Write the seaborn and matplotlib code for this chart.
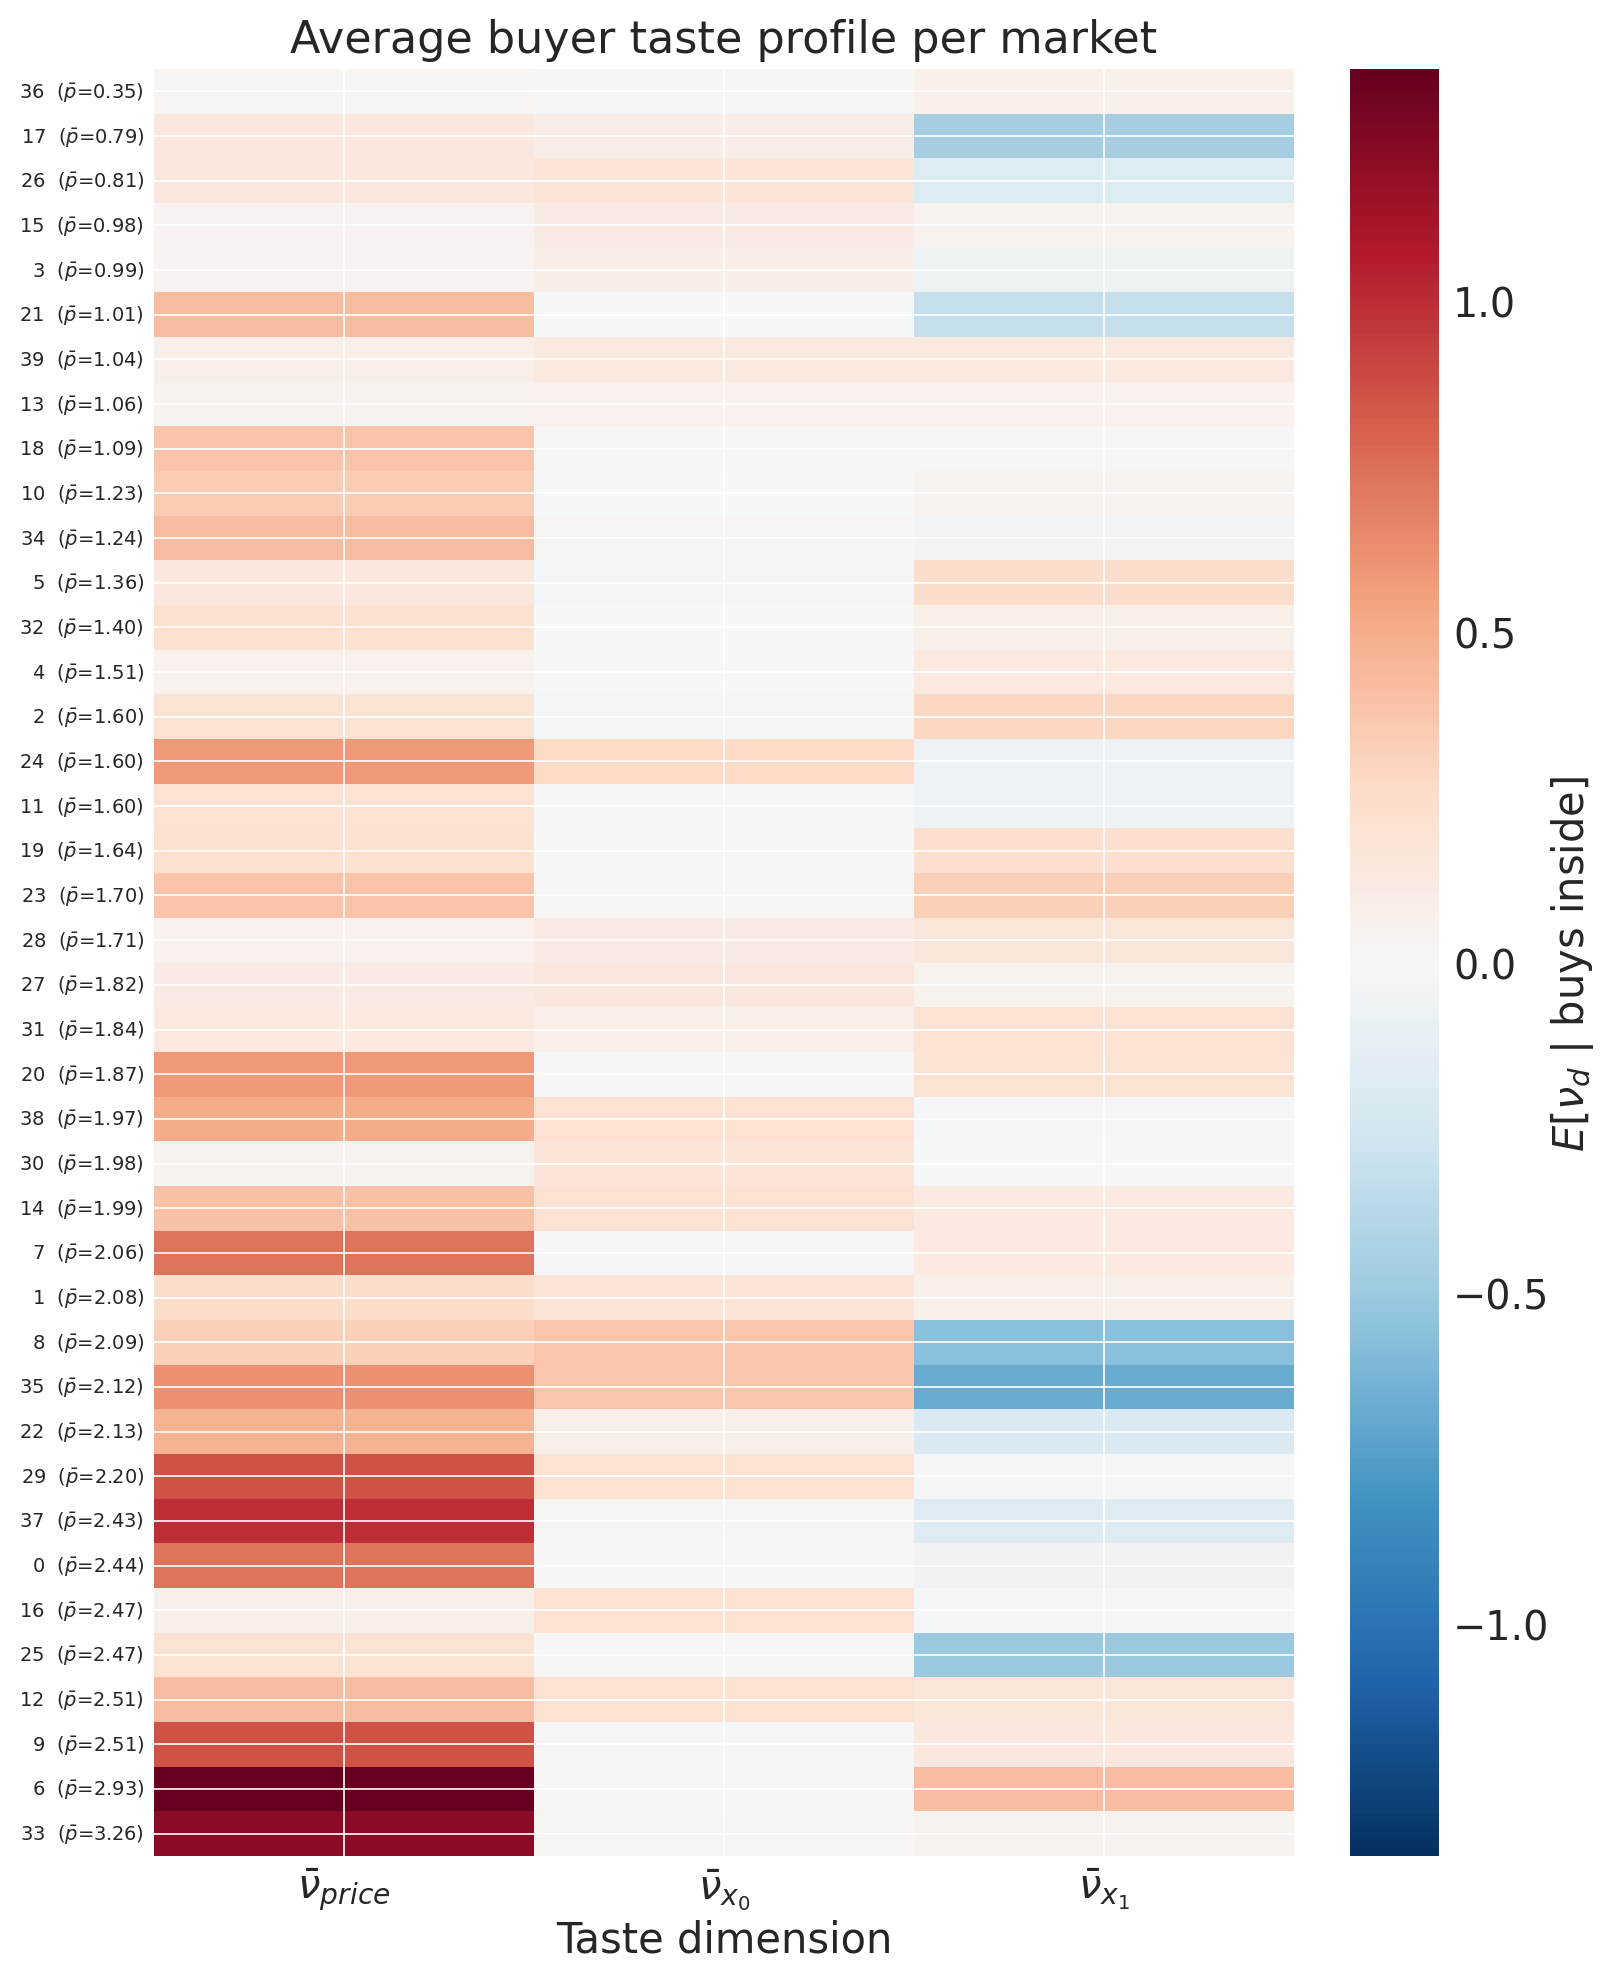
import numpy as np
import pandas as pd
import matplotlib
matplotlib.use("Agg")
import matplotlib.pyplot as plt
import seaborn as sns

# ---- data ----
markets = [36, 17, 26, 15, 3, 21, 39, 13, 18, 10, 34, 5, 32, 4, 2, 24, 11, 19, 23, 28,
           27, 31, 20, 38, 30, 14, 7, 1, 8, 35, 22, 29, 37, 0, 16, 25, 12, 9, 6, 33]
mean_price = [0.35, 0.79, 0.81, 0.98, 0.99, 1.01, 1.04, 1.06, 1.09, 1.23, 1.24, 1.36, 1.40,
              1.51, 1.60, 1.60, 1.60, 1.64, 1.70, 1.71, 1.82, 1.84, 1.87, 1.97, 1.98, 1.99,
              2.06, 2.08, 2.09, 2.12, 2.13, 2.20, 2.43, 2.44, 2.47, 2.47, 2.51, 2.51, 2.93, 3.26]
nu_price = [0.03, 0.14, 0.14, 0.04, 0.04, 0.42, 0.08, 0.05, 0.39, 0.34, 0.42, 0.14, 0.22, 0.06,
            0.20, 0.59, 0.21, 0.22, 0.39, 0.06, 0.11, 0.13, 0.59, 0.50, 0.05, 0.40, 0.73, 0.24,
            0.32, 0.62, 0.47, 0.86, 1.00, 0.73, 0.08, 0.20, 0.42, 0.86, 1.35, 1.22]
nu_x0 = [0.00, 0.09, 0.17, 0.11, 0.09, -0.01, 0.13, 0.06, 0.00, -0.01, 0.02, -0.03, -0.01,
         -0.01, -0.03, 0.27, 0.00, 0.00, 0.00, 0.11, 0.14, 0.08, 0.00, 0.21, 0.17, 0.21, 0.00,
         0.18, 0.37, 0.37, 0.08, 0.21, 0.02, 0.00, 0.21, 0.01, 0.21, 0.01, 0.01, 0.02]
nu_x1 = [0.07, -0.46, -0.18, 0.05, -0.07, -0.32, 0.13, 0.06, 0.01, 0.05, -0.05, 0.24, 0.08,
         0.13, 0.29, -0.08, -0.08, 0.23, 0.32, 0.15, 0.05, 0.21, 0.19, -0.02, -0.01, 0.12,
         0.12, 0.08, -0.56, -0.68, -0.20, 0.01, -0.17, -0.06, -0.02, -0.50, 0.16, 0.14, 0.42,
         0.05]
dim_labels = [r"$\bar{\nu}_{price}$", r"$\bar{\nu}_{x_0}$", r"$\bar{\nu}_{x_1}$"]
row_labels = [f"{m}  ($\\bar{{p}}$={p:.2f})" for m, p in zip(markets, mean_price)]

df = pd.DataFrame({dim_labels[0]: nu_price, dim_labels[1]: nu_x0, dim_labels[2]: nu_x1},
                  index=row_labels)

# ---- style ----
sns.set_theme(style="darkgrid")
plt.rcParams["font.family"] = ["DejaVu Sans"]
plt.rcParams["axes.facecolor"] = "white"
plt.rcParams["figure.facecolor"] = "white"

fig = plt.figure(figsize=(8.1, 9.915), dpi=200)
W, H = 1620, 1983
left, right, top, bottom = 154, 1294, 70, 1857
ax = fig.add_axes([left / W, 1 - bottom / H, (right - left) / W, (bottom - top) / H])
cax = fig.add_axes([1350 / W, 1 - bottom / H, 89 / W, (bottom - top) / H])

sns.heatmap(df, ax=ax, cbar_ax=cax, cmap="RdBu_r", vmin=-1.35, vmax=1.35, center=0,
            xticklabels=dim_labels, yticklabels=row_labels)

ax.set_axisbelow(False)
ax.grid(True, color="white", linewidth=0.6)
ax.tick_params(axis="both", length=0)
ax.tick_params(axis="y", labelsize=7, rotation=0, pad=3.5)
ax.tick_params(axis="x", labelsize=14.5, pad=3.5)
ax.set_title("Average buyer taste profile per market", fontsize=16, color="#262626")
ax.set_xlabel("Taste dimension", fontsize=15, color="#262626", labelpad=2)
ax.set_ylabel("")

cax.grid(False)
cax.tick_params(labelsize=14.3, length=0, pad=5)
cax.set_yticks([-1.0, -0.5, 0.0, 0.5, 1.0])
cax.set_ylabel(r"$E[\nu_d$ | buys inside]", fontsize=15, color="#262626", labelpad=0)

fig.savefig("out.png", dpi=200)
